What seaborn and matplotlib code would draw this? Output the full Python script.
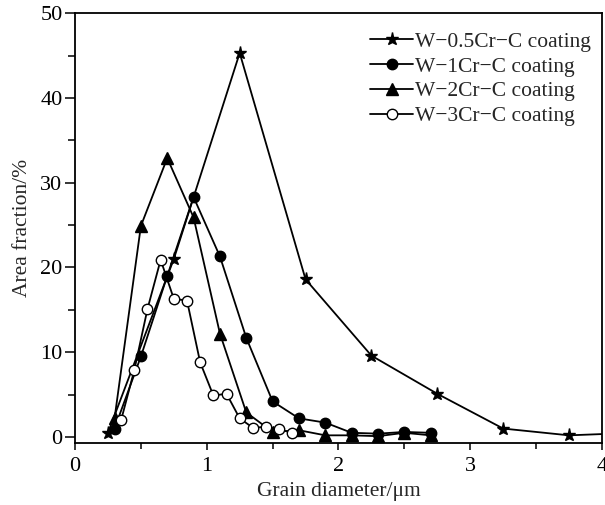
import numpy as np
import pandas as pd
import matplotlib
matplotlib.use('Agg')
import matplotlib.pyplot as plt
from matplotlib.ticker import MultipleLocator
import seaborn as sns

# W-0.5Cr-C coating (stars)
x_05 = [0.25, 0.75, 1.25, 1.75, 2.25, 2.75, 3.25, 3.75, 4.25]
y_05 = [0.5, 21.0, 45.3, 18.6, 9.6, 5.1, 1.0, 0.2, 0.5]
# W-1Cr-C coating (filled circles)
x_1 = [0.3, 0.5, 0.7, 0.9, 1.1, 1.3, 1.5, 1.7, 1.9, 2.1, 2.3, 2.5, 2.7]
y_1 = [1.0, 9.5, 19.0, 28.3, 21.3, 11.7, 4.2, 2.2, 1.7, 0.5, 0.4, 0.6, 0.5]
# W-2Cr-C coating (triangles)
x_2 = [0.3, 0.5, 0.7, 0.9, 1.1, 1.3, 1.5, 1.7, 1.9, 2.1, 2.3, 2.5, 2.7]
y_2 = [2.2, 24.9, 32.9, 25.9, 12.2, 2.9, 0.6, 0.8, 0.2, 0.2, 0.1, 0.5, 0.2]
# W-3Cr-C coating (open circles)
x_3 = [0.35, 0.45, 0.55, 0.65, 0.75, 0.85, 0.95, 1.05, 1.15, 1.25, 1.35, 1.45, 1.55, 1.65]
y_3 = [2.0, 7.9, 15.1, 20.9, 16.3, 16.1, 8.8, 4.9, 5.1, 2.2, 1.1, 1.2, 0.9, 0.5]

labels = ['W\u22120.5Cr\u2212C coating', 'W\u22121Cr\u2212C coating',
          'W\u22122Cr\u2212C coating', 'W\u22123Cr\u2212C coating']

sns.set_style('ticks')
plt.rcParams['font.family'] = ['Liberation Serif', 'DejaVu Serif']

fig = plt.figure(figsize=(6.05, 5.05), dpi=100)
ax = fig.add_axes([0.124, 0.122, 0.871, 0.852])

series = [(x_05, y_05, '*', 'black', 9.5),
          (x_1, y_1, 'o', 'black', 7.5),
          (x_2, y_2, '^', 'black', 8),
          (x_3, y_3, 'o', 'white', 7.5)]

for (xs, ys, mk, fc, ms), lab in zip(series, labels):
    df = pd.DataFrame({'x': xs, 'y': ys})
    sns.lineplot(data=df, x='x', y='y', ax=ax, color='black', lw=1.3,
                 marker=mk, markersize=ms, markerfacecolor=fc,
                 markeredgecolor='black', markeredgewidth=1.0,
                 sort=False, label=lab)

ax.set_xlim(0, 4)
ax.set_ylim(-0.75, 50)
ax.xaxis.set_major_locator(MultipleLocator(1))
ax.xaxis.set_minor_locator(MultipleLocator(0.5))
ax.yaxis.set_major_locator(MultipleLocator(10))
ax.yaxis.set_minor_locator(MultipleLocator(5))
ax.tick_params(which='both', direction='out', width=1.1, labelsize=16, colors='black')
ax.tick_params(axis='x', which='major', length=5, pad=5)
ax.tick_params(axis='x', which='minor', length=4)
ax.tick_params(axis='y', which='major', length=7, pad=2)
ax.tick_params(axis='y', which='minor', length=5)
for s in ax.spines.values():
    s.set_visible(True)
    s.set_linewidth(1.3)
    s.set_color('black')

ax.set_xlabel('Grain diameter/\u03bcm', fontsize=15.5, labelpad=4)
ax.set_ylabel('Area fraction/%', fontsize=15.5, labelpad=6)

ax.legend(loc='upper right', bbox_to_anchor=(1.0, 0.982), frameon=False,
          fontsize=15.5, handlelength=2.0, handletextpad=0.1,
          labelspacing=0.22, borderaxespad=0.1)

fig.savefig('out.png', dpi=100)
